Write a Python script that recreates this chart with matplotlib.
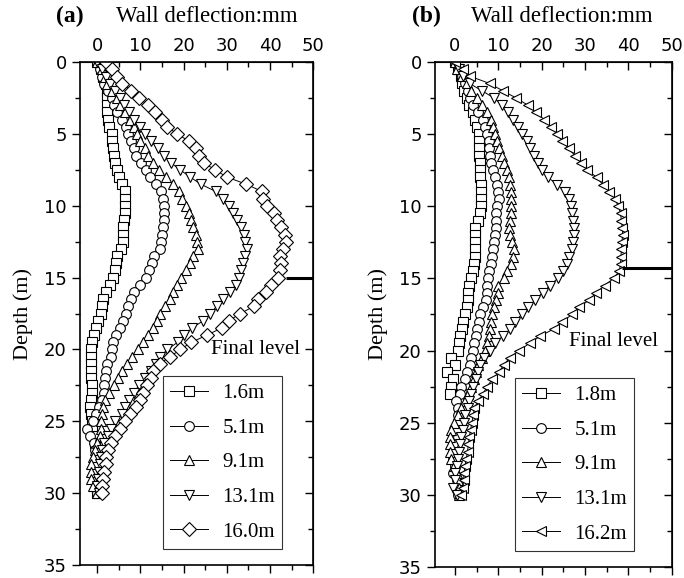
import matplotlib
matplotlib.use("Agg")
import matplotlib.pyplot as plt
from matplotlib.ticker import MultipleLocator

# depth of the inclinometer readings (m)
depth = [0.0, 0.5, 1.0, 1.5, 2.0, 2.5, 3.0, 3.5, 4.0, 4.5, 5.0, 5.5, 6.0, 6.5, 7.0, 7.5,
         8.0, 8.5, 9.0, 9.5, 10.0, 10.5, 11.0, 11.5, 12.0, 12.5, 13.0, 13.5, 14.0, 14.5,
         15.0, 15.5, 16.0, 16.5, 17.0, 17.5, 18.0, 18.5, 19.0, 19.5, 20.0, 20.5, 21.0,
         21.5, 22.0, 22.5, 23.0, 23.5, 24.0, 24.5, 25.0, 25.5, 26.0, 26.5, 27.0, 27.5,
         28.0, 28.5, 29.0, 29.5, 30.0]

# panel (a) wall deflection (mm)
labels_a = ["1.6m", "5.1m", "9.1m", "13.1m", "16.0m"]
a_16 = [0, 0.8, 1.4, 1.9, 2.2, 2.3, 2.3, 2.3, 2.4, 2.7, 3.3, 3.5, 3.7, 3.9, 4.2, 4.5,
        5.0, 5.7, 6.3, 6.5, 6.5, 6.5, 6.2, 6.0, 6.0, 5.9, 5.4, 4.6, 4.3, 4.0, 3.7, 2.9,
        2.1, 1.4, 1.1, 0.8, 0.1, -0.3, -0.7, -1.2, -1.5, -1.5, -1.5, -1.5, -1.5, -1.3,
        -1.2, -1.5, -1.7, -1.5, -1.3, -1.2, -0.8, -0.6, -0.4, -0.4, -0.4, -0.4, -0.4,
        -0.3, 0.0]
a_51 = [0, 0.6, 1.0, 1.5, 2.4, 3.3, 3.8, 4.6, 5.8, 6.6, 7.2, 7.8, 8.4, 9.0, 10.1, 11.3,
        12.2, 13.5, 14.7, 15.1, 15.4, 15.4, 15.4, 15.3, 15.0, 14.8, 14.6, 13.1, 12.7,
        11.9, 11.2, 10.0, 8.6, 7.7, 7.1, 6.6, 6.0, 5.2, 4.3, 3.7, 3.5, 3.1, 2.3, 1.9,
        1.8, 1.6, 1.5, 1.0, 0.4, -0.3, -1.0, -2.3, -1.6, -0.8, -0.5, -0.4, -0.4, -0.3,
        -0.2, -0.1, 0.0]
a_91 = [0, 1.0, 1.7, 2.3, 3.3, 4.5, 5.2, 6.4, 7.5, 8.5, 9.2, 9.8, 11.0, 11.8, 12.8, 14.2,
        15.8, 17.5, 18.9, 19.6, 20.6, 21.2, 21.7, 22.1, 22.8, 23.1, 23.2, 22.2, 21.5,
        20.6, 19.4, 18.4, 17.5, 16.8, 15.7, 14.6, 13.8, 12.9, 11.7, 10.6, 9.4, 8.0, 6.9,
        5.8, 4.8, 3.8, 2.7, 1.8, 1.4, 1.1, 0.8, 0.8, 0.6, 0.0, -0.6, -1.0, -1.4, -1.5,
        -1.4, -0.9, 0.0]
a_131 = [0, 1.0, 2.0, 3.0, 4.0, 5.2, 6.2, 7.4, 8.5, 10.0, 11.0, 12.4, 14.0, 15.4, 17.0,
         19.2, 21.5, 24.0, 27.4, 29.2, 30.4, 31.5, 32.4, 33.2, 33.9, 34.3, 34.6, 34.3,
         33.8, 33.3, 32.7, 32.0, 30.8, 29.0, 27.6, 26.2, 24.5, 22.0, 20.0, 18.6, 16.2,
         14.6, 13.6, 12.5, 11.1, 9.6, 8.5, 7.3, 6.4, 5.7, 4.2, 3.2, 2.5, 1.6, 1.0, 0.8,
         0.6, 0.4, 0.1, 0.0, 0.3]
a_160 = [2.0, 3.5, 4.6, 5.8, 7.9, 9.6, 11.8, 13.3, 14.9, 16.2, 18.5, 21.2, 22.9, 23.5,
         24.6, 27.3, 30.0, 34.5, 38.1, 38.4, 39.4, 40.8, 41.7, 42.5, 43.4, 43.8, 43.1,
         42.4, 42.5, 42.3, 41.9, 40.2, 39.0, 37.2, 36.2, 33.1, 30.5, 28.8, 25.4, 21.8,
         19.2, 16.9, 14.4, 13.0, 12.4, 11.5, 10.6, 10.0, 9.0, 7.5, 6.3, 5.2, 4.0, 3.2,
         2.5, 1.9, 1.9, 1.6, 1.3, 1.2, 1.2]

# panel (b) wall deflection (mm)
labels_b = ["1.8m", "5.1m", "9.1m", "13.1m", "16.2m"]
b_18 = [0, 0.8, 1.3, 1.6, 2.0, 2.7, 3.3, 4.2, 4.6, 5.0, 5.6, 5.6, 5.6, 5.6, 5.7, 5.7,
        5.7, 6.0, 6.1, 6.1, 6.0, 5.7, 5.3, 4.6, 4.6, 4.6, 4.6, 4.6, 4.5, 4.1, 3.6, 3.3,
        3.1, 2.9, 2.7, 2.3, 1.9, 1.6, 1.2, 1.0, 0.8, -0.8, 0.0, -1.9, -0.4, -0.8, -1.1]
b_51 = [0, 0.9, 1.6, 2.3, 2.9, 3.5, 4.1, 5.2, 6.4, 7.0, 7.4, 7.8, 7.9, 8.0, 8.4, 8.8,
        9.2, 9.6, 9.9, 10.2, 9.8, 9.5, 9.4, 9.4, 9.3, 9.1, 8.8, 8.5, 8.2, 7.9, 7.6, 7.3,
        7.3, 7.2, 6.5, 5.7, 5.6, 5.1, 4.8, 4.4, 4.1, 3.7, 3.4, 2.7, 2.3, 1.5, 1.1, 0.2,
        0.8, 0.8, 0.6, 0.4, 0.8, -0.4, -0.4, -0.4, 0.0, -0.4, 0.4, 0.6, 0.8]
b_91 = [0, 0.4, 1.6, 2.7, 3.8, 5.0, 6.3, 7.5, 8.2, 8.8, 9.3, 9.8, 10.2, 10.9, 11.3, 11.9,
        12.4, 12.8, 13.0, 13.0, 13.0, 13.0, 12.7, 12.4, 12.6, 13.2, 13.7, 13.4, 12.9,
        12.1, 11.3, 10.0, 9.9, 9.5, 9.0, 8.6, 8.3, 8.0, 7.8, 7.3, 6.9, 6.2, 5.4, 4.9,
        4.3, 3.6, 2.9, 2.3, 1.5, 0.6, -0.3, -0.9, -1.1, -1.1, -1.1, -0.8, -0.3, 0.4,
        0.7, 0.9, 1.0]
b_131 = [0, 1.0, 1.9, 3.4, 6.2, 9.0, 10.8, 12.2, 13.4, 14.5, 15.5, 16.6, 17.4, 18.2,
         19.1, 20.1, 21.4, 23.6, 25.3, 26.2, 26.8, 27.1, 27.2, 27.5, 27.5, 27.3, 26.9,
         26.3, 25.8, 24.9, 23.7, 21.9, 20.2, 18.5, 16.8, 15.4, 13.8, 12.8, 11.0, 9.3,
         8.0, 6.8, 5.8, 5.4, 4.8, 4.2, 3.6, 3.3, 3.0, 2.4, 2.1, 1.8, 1.5, 1.2, 0.9, 0.7,
         0.4, 0.1, -0.1, -0.4, 0.4]
b_162 = [0, 1.9, 3.5, 8.0, 11.0, 14.1, 16.8, 18.7, 20.6, 22.1, 23.5, 24.8, 26.2, 27.7,
         29.0, 30.5, 32.7, 34.1, 35.6, 36.9, 37.7, 38.2, 38.4, 38.6, 38.7, 38.5, 38.4,
         38.3, 38.2, 37.9, 36.6, 34.5, 32.6, 31.0, 28.6, 27.0, 24.8, 22.8, 19.7, 17.2,
         14.8, 12.7, 11.2, 10.2, 8.6, 7.4, 6.5, 5.3, 4.5, 4.2, 3.9, 3.6, 3.3, 3.1, 2.9,
         2.6, 2.3, 2.1, 2.0, 1.8, 1.3]

final_level_a = 15.0
final_level_b = 14.3

serif = "Liberation Serif"
sans = "DejaVu Sans"
plt.rcParams["font.family"] = sans

fig = plt.figure(figsize=(6.84, 5.78), dpi=100)
ax_a = fig.add_axes([0.117, 0.0225, 0.341, 0.870])
ax_b = fig.add_axes([0.636, 0.019, 0.346, 0.874])


def draw_panel(ax, series, labels, markers, xmin, level, level_x, text_y, legend_x):
    for vals, lab, m in zip(series, labels, markers):
        ax.plot(vals, depth[:len(vals)], color="black", lw=0.7, marker=m,
                markersize=7.5 if m != "o" else 7, mfc="white", mec="black",
                mew=0.8, label=lab)
    ax.plot([level_x, 50], [level, level], color="black", lw=2.2, solid_capstyle="butt")
    ax.text(46.9, text_y, "Final level", family=serif, fontsize=15,
            ha="right", va="center")
    ax.set_xlim(xmin, 50)
    ax.set_ylim(35, 0)

    # bottom / left: outward ticks, no bottom labels
    ax.xaxis.set_major_locator(MultipleLocator(10))
    ax.xaxis.set_minor_locator(MultipleLocator(5))
    ax.yaxis.set_major_locator(MultipleLocator(5))
    ax.yaxis.set_minor_locator(MultipleLocator(2.5))
    ax.tick_params(axis="x", which="both", direction="out", labelbottom=False)
    ax.tick_params(axis="y", which="both", direction="out", labelsize=13)
    ax.tick_params(which="major", length=6, width=1)
    ax.tick_params(which="minor", length=3.5, width=1)

    # top / right: inward ticks, labels on top only
    top = ax.secondary_xaxis("top")
    top.xaxis.set_major_locator(MultipleLocator(10))
    top.xaxis.set_minor_locator(MultipleLocator(5))
    top.tick_params(which="both", direction="in", labelsize=13, pad=5)
    top.tick_params(which="major", length=6, width=1)
    top.tick_params(which="minor", length=3.5, width=1)
    right = ax.secondary_yaxis("right")
    right.yaxis.set_major_locator(MultipleLocator(5))
    right.yaxis.set_minor_locator(MultipleLocator(2.5))
    right.tick_params(which="both", direction="in", labelright=False)
    right.tick_params(which="major", length=6, width=1)
    right.tick_params(which="minor", length=3.5, width=1)

    for sp in ax.spines.values():
        sp.set_linewidth(1.2)

    ax.set_ylabel("Depth (m)", family=serif, fontsize=16, labelpad=8)
    leg = ax.legend(loc="lower left", bbox_to_anchor=(legend_x, 0.032),
                    borderaxespad=0, fancybox=False, edgecolor="black",
                    prop={"family": serif, "size": 15}, labelspacing=0.72,
                    handlelength=1.8, handletextpad=0.7, borderpad=0.35)
    leg.get_frame().set_linewidth(0.8)


draw_panel(ax_a, [a_16, a_51, a_91, a_131, a_160], labels_a,
           ["s", "o", "^", "v", "D"], -4, final_level_a, 43.6, 20.0, 0.356)
draw_panel(ax_b, [b_18, b_51, b_91, b_131, b_162], labels_b,
           ["s", "o", "^", "v", "<"], -4.6, final_level_b, 38.5, 19.4, 0.338)

fig.text(70 / 684, 1 - 16 / 578, "(a)", family=serif, fontsize=17,
         fontweight="bold", ha="center", va="center")
fig.text(207 / 684, 1 - 16 / 578, "Wall deflection:mm", family=serif,
         fontsize=16.5, ha="center", va="center")
fig.text(426 / 684, 1 - 16 / 578, "(b)", family=serif, fontsize=17,
         fontweight="bold", ha="center", va="center")
fig.text(562 / 684, 1 - 16 / 578, "Wall deflection:mm", family=serif,
         fontsize=16.5, ha="center", va="center")

fig.savefig("out.png", dpi=100)
